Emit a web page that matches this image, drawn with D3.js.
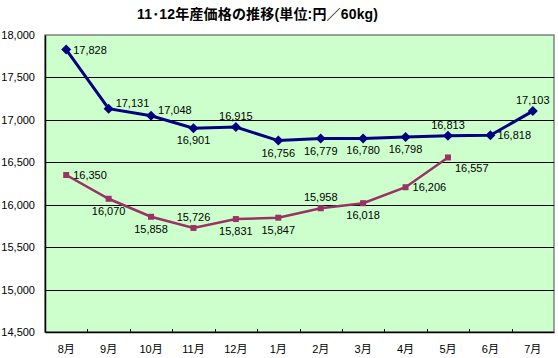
<!DOCTYPE html>
<html><head><meta charset="utf-8">
<script src="https://cdn.jsdelivr.net/npm/d3@7"></script>
<style>
html,body{margin:0;padding:0;background:#fff;}
svg{display:block;}
text{font-family:"Liberation Sans",Arial,"Noto Sans CJK JP",sans-serif;}
</style></head>
<body>
<svg id="c" width="558" height="358"></svg>
<script>
const months = ["8月","9月","10月","11月","12月","1月","2月","3月","4月","5月","6月","7月"];
const series11 = [17828,17131,17048,16901,16915,16756,16779,16780,16798,16813,16818,17103];
const series12 = [16350,16070,15858,15726,15831,15847,15958,16018,16206,16557];
const yTicks = [14500,15000,15500,16000,16500,17000,17500,18000];
const labelPos11 = ["r","ru","ru","b","a","b","b","b","b","a","r","a"];
const labelPos12 = ["r","b","b","a","b","b","a","b","r","rd"];
const title = "11･12年産価格の推移(単位:円／60kg)";

const svg = d3.select("#c");
const L=45, R=554, T=35, B=332;
const x = d3.scaleBand().domain(months).range([L,R]).padding(0);
const y = d3.scaleLinear().domain([14500,18000]).range([B,T]);
const cx = m => x(m) + x.bandwidth()/2;

// plot area
svg.append("rect").attr("x",L).attr("y",T).attr("width",R-L).attr("height",B-T)
  .attr("fill","#CCFFCC").attr("stroke","#808080").attr("stroke-width",1.5);

// gridlines
svg.append("g").selectAll("line").data(yTicks.filter(v=>v>14500 && v<18000)).join("line")
  .attr("x1",L).attr("x2",R).attr("y1",d=>Math.round(y(d))+0.5).attr("y2",d=>Math.round(y(d))+0.5)
  .attr("stroke","#000").attr("stroke-width",1);

// y axis
const yAxis = d3.axisLeft(y).tickValues(yTicks).tickSize(0).tickPadding(10).tickFormat(d3.format(","));
const gy = svg.append("g").attr("transform",`translate(${L},0)`).call(yAxis);
gy.select(".domain").attr("stroke","#000").attr("stroke-width",1.5);
gy.selectAll("text").attr("font-size",11).attr("fill","#000");

// x axis
const xAxis = d3.axisBottom(x).tickSize(0).tickPadding(12);
const gx = svg.append("g").attr("transform",`translate(0,${B})`).call(xAxis);
gx.select(".domain").attr("stroke","#000").attr("stroke-width",1.5);
gx.selectAll("text").attr("font-size",11).attr("fill","#000").attr("dy","0.85em")
  .attr("font-family","'Noto Sans CJK JP',sans-serif");
// inside tick marks at band boundaries
svg.append("g").selectAll("line").data(months.slice(1)).join("line")
  .attr("x1",d=>Math.round(x(d))+0.5).attr("x2",d=>Math.round(x(d))+0.5)
  .attr("y1",B).attr("y2",B-3).attr("stroke","#000").attr("stroke-width",1);

// lines
const line = d3.line().x((d,i)=>cx(months[i])).y(d=>y(d));
svg.append("path").datum(series12).attr("d",line).attr("fill","none")
  .attr("stroke","#993366").attr("stroke-width",2.5);
svg.append("path").datum(series11).attr("d",line).attr("fill","none")
  .attr("stroke","#000080").attr("stroke-width",3);

// markers
svg.append("g").selectAll("rect").data(series12).join("rect")
  .attr("x",(d,i)=>cx(months[i])-3).attr("y",d=>y(d)-3).attr("width",6).attr("height",6)
  .attr("fill","#993366");
svg.append("g").selectAll("path").data(series11).join("path")
  .attr("transform",(d,i)=>`translate(${cx(months[i])},${y(d)})`)
  .attr("d","M0,-5L5,0L0,5L-5,0Z").attr("fill","#000080");

// labels
function labels(data,pos){
  const fmt = d3.format(",");
  svg.append("g").selectAll("text").data(data).join("text")
    .attr("x",(d,i)=>{const p=pos[i];return cx(months[i]) + (p[0]==="r"?7:0);})
    .attr("y",(d,i)=>{const p=pos[i];
      const off = p==="a"?-11 : p==="b"?12 : p==="ru"?-6 : p==="rd"?11 : 0;
      return y(d)+off;})
    .attr("dy","0.36em")
    .attr("text-anchor",(d,i)=>pos[i][0]==="r"?"start":"middle")
    .attr("font-size",11).attr("fill","#000").text(d=>fmt(d));
}
labels(series11,labelPos11);
labels(series12,labelPos12);

// title
svg.append("text").attr("x",137).attr("y",14).attr("dy","0.36em").attr("text-anchor","start")
  .attr("font-size",14).attr("font-weight","bold")
  .attr("textLength",241).attr("lengthAdjust","spacing")
  .attr("font-family","'Noto Sans CJK JP',sans-serif").text(title);
</script>
</body></html>
